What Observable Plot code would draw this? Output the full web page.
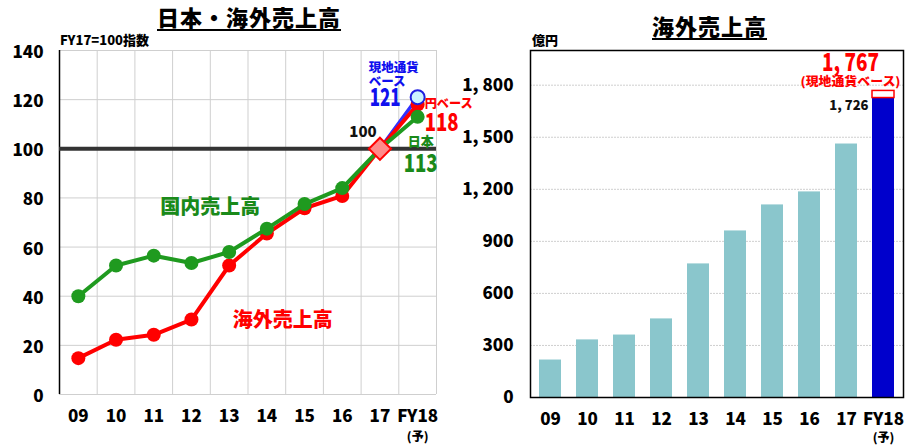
<!DOCTYPE html>
<html><head><meta charset="utf-8">
<script src="https://cdn.jsdelivr.net/npm/d3@7"></script>
<script src="https://cdn.jsdelivr.net/npm/@observablehq/plot@0.6"></script>
<style>
body{margin:0;background:#fff;}
#wrap{position:relative;width:906px;height:445px;background:#fff;overflow:hidden;font-family:'Noto Sans CJK JP',sans-serif;font-weight:900;}
.abs{position:absolute;white-space:nowrap;line-height:1;}
.title{font-size:22px;text-decoration:underline;text-decoration-thickness:2px;text-underline-offset:3px;letter-spacing:1px;}
#left svg{overflow:visible;}
</style></head>
<body>
<div id="wrap">
  <div id="right" class="abs" style="left:460px;top:0"></div>
  <div id="left" class="abs" style="left:0;top:0"></div>
  <div class="abs title" style="left:157px;top:5px">日本・海外売上高</div>
  <div class="abs" style="left:60px;top:33px;font-size:13px">FY17=100指数</div>
  <div class="abs title" style="left:652px;top:14px">海外売上高</div>
  <div class="abs" style="left:532px;top:33px;font-size:13px">億円</div>
</div>
<script>
const cats = ["09","10","11","12","13","14","15","16","17","FY18"];
const domesticIdx = [40, 52.5, 56.5, 53.5, 58, 67.5, 77.5, 84, 100, 113];
const overseasIdx = [14.8, 22.3, 24.3, 30.5, 52.5, 65.5, 75.8, 80.8, 100, 118];
const localIdxCats = ["17", "FY18"];
const localIdx = [100, 121];
const overseasSales = [216, 332, 360, 453, 770, 960, 1110, 1185, 1461, 1726];
const localSalesFY18 = 1767;
const yTicksLeft = [0, 20, 40, 60, 80, 100, 120, 140];
const yTicksRight = [0, 300, 600, 900, 1200, 1500, 1800];

const JP = "'Noto Sans CJK JP', sans-serif";
const W = 900;
const GREEN = "#1f9a1f", GREEN_T = "#1a8a1a", RED = "#ff0000", BLUE = "#3030ff", BLUE_T = "#1010ee";
const TEAL = "#8ac6cc", NAVY = "#0000cc";

const idx = d3.range(cats.length);
const dom = idx.map(i => ({i, v: domesticIdx[i]}));
const ovs = idx.map(i => ({i, v: overseasIdx[i]}));
const loc = localIdxCats.map((c, k) => ({i: cats.indexOf(c), v: localIdx[k]}));
const last = cats.length - 1;
const boundaries = d3.range(0.5, cats.length, 1);

const left = Plot.plot({
  width: 460, height: 445,
  marginLeft: 59, marginRight: 24, marginTop: 50, marginBottom: 51,
  style: {fontFamily: JP, fontWeight: W, background: "transparent", overflow: "visible"},
  x: {type: "linear", domain: [-0.5, cats.length - 0.5]},
  y: {domain: [0, 140]},
  marks: [
    Plot.gridY({ticks: yTicksLeft, stroke: "#cfcfcf", strokeOpacity: 1}),
    Plot.ruleX(boundaries, {stroke: "#cfcfcf", strokeOpacity: 1}),
    Plot.ruleX([-0.5], {stroke: "#000", strokeWidth: 1.5}),
    Plot.ruleY([100], {stroke: "#333", strokeWidth: 4}),
    Plot.axisY({ticks: yTicksLeft, tickSize: 0, tickPadding: 16, fontSize: 17, fontWeight: W, label: null, dy: 2}),
    Plot.axisX({ticks: idx, tickFormat: i => cats[i], tickSize: 0, tickPadding: 15, fontSize: 17, fontWeight: W, label: null}),
    Plot.text([last], {x: d => d, y: 0, text: () => "(予)", dy: 43, fontSize: 12, fontWeight: W}),
    Plot.line(loc, {x: "i", y: "v", stroke: BLUE, strokeWidth: 3.5}),
    Plot.line(ovs, {x: "i", y: "v", stroke: RED, strokeWidth: 4}),
    Plot.dot(ovs, {x: "i", y: "v", r: 7, fill: RED}),
    Plot.line(dom, {x: "i", y: "v", stroke: GREEN, strokeWidth: 4}),
    Plot.dot(dom, {x: "i", y: "v", r: 7, fill: GREEN}),
    Plot.dot(loc.slice(1), {x: "i", y: "v", r: 7, fill: "#ccf4ff", stroke: "#2020e0", strokeWidth: 2}),
    Plot.dot([8], {x: d => d, y: 100, symbol: "diamond2", r: 10, fill: "#ff8a8a", stroke: RED, strokeWidth: 2}),
    Plot.text([8], {x: d => d, y: 100, text: () => "100", dx: -17, dy: -17, fontSize: 15, fontWeight: W, fill: "#111"}),
    Plot.text([last], {x: d => d, y: localIdx[1], text: () => "現地通貨", textAnchor: "start", dx: -49, dy: -29, fontSize: 12.5, fill: BLUE_T}),
    Plot.text([last], {x: d => d, y: localIdx[1], text: () => "ベース", textAnchor: "start", dx: -49, dy: -15, fontSize: 12.5, fill: BLUE_T}),
    Plot.text([last], {x: d => d, y: localIdx[1], text: () => String(localIdx[1]), textAnchor: "start", dx: -48, dy: 1, fontSize: 25, fill: BLUE_T}),
    Plot.text([last], {x: d => d, y: overseasIdx[last], text: () => "円ベース", textAnchor: "start", dx: 7, dy: -1, fontSize: 12.5, fill: RED}),
    Plot.text([last], {x: d => d, y: overseasIdx[last], text: () => String(overseasIdx[last]), textAnchor: "start", dx: 7, dy: 18, fontSize: 25, fill: RED}),
    Plot.text([last], {x: d => d, y: domesticIdx[last], text: () => "日本", dx: 3, dy: 25, fontSize: 13, fill: GREEN_T}),
    Plot.text([last], {x: d => d, y: domesticIdx[last], text: () => String(domesticIdx[last]), textAnchor: "start", dx: -14, dy: 47, fontSize: 25, fill: GREEN_T}),
    Plot.text([3.5], {x: d => d, y: 76, text: () => "国内売上高", fontSize: 20, fill: GREEN_T}),
    Plot.text([5.42], {x: d => d, y: 30, text: () => "海外売上高", fontSize: 20, fill: RED})
  ]
});
document.getElementById("left").appendChild(left);

const bars = cats.map((c, i) => ({c, v: overseasSales[i]}));
const fmt = d => d3.format(",")(d).replace(",", ", ");
const right = Plot.plot({
  width: 446, height: 445,
  marginLeft: 70, marginRight: 3, marginTop: 50, marginBottom: 48,
  style: {fontFamily: JP, fontWeight: W, background: "transparent"},
  x: {domain: cats, paddingInner: 0.41, paddingOuter: 0.2},
  y: {domain: [0, 2000]},
  marks: [
    Plot.gridY({ticks: yTicksRight, stroke: "#cfcfcf", strokeOpacity: 1, strokeDasharray: "2,1"}),
    Plot.barY(bars, {x: "c", y: "v", fill: d => d.c === "FY18" ? NAVY : TEAL}),
    Plot.barY([cats[last]], {x: d => d, y1: overseasSales[last], y2: localSalesFY18, fill: "#fff", stroke: RED, strokeWidth: 1.5}),
    Plot.frame({stroke: "#000", strokeWidth: 1.5}),
    Plot.axisY({ticks: yTicksRight, tickFormat: fmt, tickSize: 0, tickPadding: 17, fontSize: 17, fontWeight: W, label: null}),
    Plot.axisX({tickSize: 0, tickPadding: 15, fontSize: 17, fontWeight: W, label: null}),
    Plot.text([cats[last]], {x: d => d, y: 0, text: () => "(予)", dy: 41, fontSize: 12, fontWeight: W}),
    Plot.text([cats[last]], {x: d => d, y: localSalesFY18, text: () => fmt(localSalesFY18), dx: -33, dy: -28, fontSize: 25, fill: RED}),
    Plot.text([cats[last]], {x: d => d, y: localSalesFY18, text: () => "(現地通貨ベース)", dx: -33, dy: -9, fontSize: 12, fill: RED}),
    Plot.text([cats[last]], {x: d => d, y: overseasSales[last], text: () => fmt(overseasSales[last]), textAnchor: "end", dx: -15, dy: 8, fontSize: 13, fill: "#111"})
  ]
});
document.getElementById("right").appendChild(right);

// condense the large value labels to match the narrow digits of the original
const narrow = {"121": 31, "118": 34, "113": 34, "1, 767": 57, "(現地通貨ベース)": 100, "円ベース": 48};
for (const svg of [left, right]) {
  d3.select(svg).selectAll("text").each(function() {
    const w = narrow[this.textContent];
    if (w) { this.setAttribute("textLength", w); this.setAttribute("lengthAdjust", "spacingAndGlyphs"); }
  });
}
</script>
</body></html>
